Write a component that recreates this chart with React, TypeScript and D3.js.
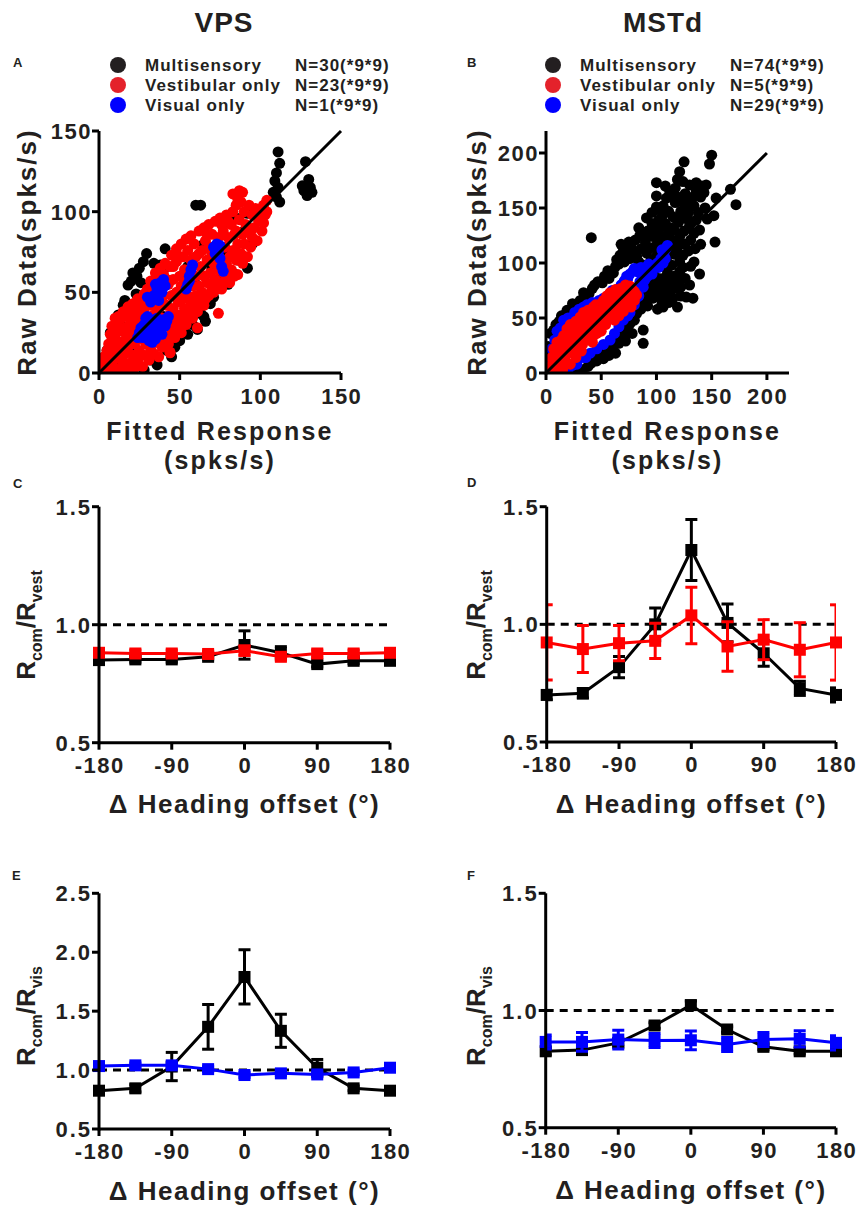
import React from 'react';
import * as d3 from 'd3';

const FONT = '"Liberation Sans", Arial, Helvetica, sans-serif';
const TXT = '#231f20';

type P = [number, number];

// ---------- Scatter data (Fitted response, Raw data), spks/s ----------
const vpsMulti: P[] = [
  [111,137],[112,130],[110,124],[109,119],[111,115],[112,106],[108,112],[110,109],
  [128,131],[130,120],[131,115],[129,110],[127,113],[132,112],[126,116],
  [60,104],[63,104],
  [29.5,74],[27.5,69],[21,62],[23.5,60],[18,54.5],[41,77],[38,67],[40,64],[23,49],[18,39],[13,31],[7,25],[9,20],[5,14],[16,45],[26,56],[34,68],[12,36],[20,57],[25,65],[15,42],
  [63,37],[65,35],[61,27],[69,43],[71,47],[75,58],[83,62],[92,65],[90,72],[42,14],[40,18],[32,8],[28,2],[21,1],[75,95],[77,93],[92,99],[58,30],[66,32],[50,20],[47,16],[36,5],[80,55],[86,70],[95,80],[55,24],[45,10],
  [30,20],[40,35],[50,45],[60,55],[70,65],[80,75],[90,88],[20,15],[10,8],[35,48],[55,66],[65,80],[85,96]
];
const vpsVest: P[] = [
  [1,2],[2,6],[3,1],[3,10],[4,4],[5,14],[5,8],[6,2],[6,18],[7,11],[7,24],[8,5],[8,29],[9,16],[10,34],[10,1],[10,22],[11,9],[11,31],[12,14],[12,35],[13,3],[13,26],[14,19],[14,34],[15,7],[15,38],[16,12],[16,28],[17,2],[17,22],[17,36],[18,16],[18,41],[19,6],[19,30],[20,24],[20,39],[21,11],[21,43],[22,3],[22,18],[22,33],[23,27],[23,40],[24,8],[24,46],[25,14],[25,36],[26,21],[26,44],[27,4],[27,30],[28,11],[28,40],[28,49],[29,18],[29,25],[30,35],[30,45],[30,52],[31,8],[31,28],[32,15],[32,42],[32,57],[33,22],[33,52],[34,12],[34,36],[35,30],[35,57],[35,62],[36,19],[36,46],[37,10],[37,40],[38,26],[38,55],[38,65],[39,16],[39,34],[40,48],[40,61],[41,22],[41,68],[42,30],[42,42],[43,18],[43,55],[44,13],[44,36],[44,66],[45,26],[45,48],[45,73],[46,40],[46,58],[47,22],[47,32],[48,50],[48,69],[48,77],[49,28],[49,44],[50,36],[50,60],[51,25],[51,54],[51,80],[52,32],[52,46],[52,72],[53,40],[53,64],[54,30],[54,56],[54,83],[55,48],[55,76],[56,36],[56,62],[57,44],[57,70],[57,85],[58,34],[58,54],[59,40],[59,80],[60,60],[60,48],[60,72],[61,28],[61,38],[62,54],[62,88],[63,44],[63,66],[64,76],[64,50],[65,42],[65,60],[65,90],[66,82],[66,46],[67,56],[67,70],[68,48],[68,92],[69,62],[69,78],[70,52],[70,86],[71,50],[71,68],[72,58],[72,94],[73,74],[73,52],[74,37],[74,64],[74,84],[75,56],[75,96],[76,70],[76,52],[77,62],[77,88],[78,78],[78,56],[79,68],[79,98],[80,60],[80,84],[81,72],[81,56],[82,92],[82,64],[83,100],[83,111],[83,76],[84,60],[84,86],[85,70],[85,104],[86,80],[86,61],[87,95],[87,113],[88,74],[88,106],[89,86],[89,68],[90,100],[90,80],[91,92],[92,72],[93,88],[93,104],[94,78],[95,98],[95,84],[96,90],[97,102],[98,82],[99,94],[100,98],[101,88],[102,93],[102,104],[103,98],[104,107],[44,12.5],[86,108],[89,112],[104,100],
  [9,26],[13,18],[19,35],[24,31],[27,44],[33,46],[36,26],[42,58],[46,66],[50,72],[53,50],[58,66],[62,74],[67,86],[70,74],[76,92],[80,94],[85,88]
];
const vpsVis: P[] = [
  [25,25],[27,22],[28,30],[30,26],[31,20],[32,33],[33,24],[34,29],[35,21],[36,34],[37,26],[38,31],[39,24],[40,33],[41,29],[42,32],[29,34],[26,28],[33,19],[30,35],[28,26],[31,30],[35,27],[38,28],[43,35],[24,22],
  [30,47],[32,44],[34,48],[36,52],[38,56],[40,58],[39,50],[41,54],[37,45],[35,55],[36,48],[38,51],
  [54,52],[55,55],[56,60],[57,64],[58,67],[56,57],
  [71,78],[73,80],[74,75],[75,71],[76,66],[77,63],[72,74],[75,79]
];

const mstMulti: P[] = [
  [2,24],[4,36],[7,39],[3,15],[9,44],[12,47],[14,52],[17,50],[19,57],[22,55],[26,60],[24,63],[29,59],[31,66],[28,2],[33,3],[36,69],[34,73],[38,6],[41,9],[39,72],[42,77],[44,80],[47,83],[46,11],[48,15],[51,82],[53,88],[52,13],[54,19],[57,86],[56,93],[58,22],[57,16],[61,91],[63,97],[61,24],[63,18],[64,103],[66,99],[67,107],[66,27],[68,33],[71,101],[70,111],[73,108],[72,29],[71,37],[74,41],[76,104],[77,115],[75,119],[78,36],[76,45],[79,110],[81,121],[82,106],[80,48],[82,54],[84,101],[86,113],[85,125],[84,132],[86,58],[84,64],[88,39],[88,27],[89,98],[91,109],[90,119],[92,129],[91,141],[89,67],[92,61],[93,76],[90,84],[95,103],[97,114],[94,125],[96,136],[96,146],[97,68],[95,90],[98,80],[100,106],[101,118],[99,129],[102,139],[100,151],[100,161],[100,173],[101,58],[103,70],[102,86],[100,96],[104,124],[106,97],[107,110],[105,133],[106,144],[106,152],[105,63],[107,76],[106,86],[106,60],[109,103],[111,114],[110,126],[108,136],[111,147],[109,159],[112,165],[111,64],[109,71],[112,82],[110,91],[114,98],[116,108],[114,121],[116,130],[115,142],[117,155],[117,168],[115,68],[117,77],[116,88],[119,60],[121,101],[119,114],[121,124],[120,137],[122,147],[119,160],[124,174],[121,183],[122,70],[121,92],[124,107],[126,117],[125,129],[124,141],[127,152],[126,163],[125,192],[126,86],[127,69],[129,111],[131,121],[130,134],[129,146],[131,158],[130,171],[133,68],[131,97],[135,113],[134,127],[136,139],[134,152],[136,166],[136,173],[134,101],[140,117],[139,130],[138,146],[140,160],[141,170],[139,90],[145,171],[143,164],[144,150],[146,140],[150,198],[148,190],[152,143],[153,119],[154,159],[167,167],[172,153],[130,80],[122,78],[112,72],[41,123],[68,117],[73,111],[58,25],[62,30],[67,40],[70,46],[74,52],[79,58],[83,70],[87,76],[93,86],[98,94],[104,104],[109,110],[113,116],[118,120],
  [88,92],[93,113],[103,113],[108,120],[113,132],[118,140],[123,156],[128,140],[133,160],[97,124],[103,148],[108,170],[114,160],[119,176],[95,72],[100,78],[108,82],[115,80],[124,96],[120,84]
];
const mstVest: P[] = [
  [2,2],[4,6],[6,12],[8,4],[9,20],[10,28],[12,10],[13,24],[15,3],[16,34],[18,16],[19,40],[20,28],[22,8],[22,44],[24,20],[25,34],[27,14],[27,47],[29,26],[30,40],[31,51],[32,20],[34,34],[34,55],[36,30],[37,46],[38,57],[40,36],[41,50],[42,28],[43,60],[44,42],[46,54],[46,36],[48,62],[49,46],[50,38],[52,56],[52,66],[54,44],[55,70],[56,60],[57,50],[58,73],[60,54],[60,66],[62,48],[63,76],[64,60],[66,70],[66,52],[68,77],[69,64],[70,56],[72,72],[72,80],[74,62],[75,68],[76,79],[77,60],[79,72],[80,66],[82,71],[45,62],[35,50],[14,16],[24,30],[38,44],[50,50],
  [5,14],[7,22],[11,18],[14,30],[17,24],[21,38],[23,30],[26,40],[28,34],[31,44],[33,40],[36,40],[39,52],[42,46],[45,48],[47,58],[51,48],[53,60],[56,54],[58,64],[61,60],[62,70],[65,64],[67,58],[70,70],[71,62],[73,76],[76,72],[78,76],[80,74],[43,34],[48,42],[55,50],[59,58],[64,68],[68,68],[18,8],[26,22],[30,30],[33,26]
];
const mstVis: P[] = [
  [3,10],[5,22],[8,30],[10,38],[13,41],[16,48],[20,50],[26,55],[30,58],[34,60],[37,62],[42,64],[48,66],[52,68],[56,70],[61,72],[66,76],[70,82],[74,86],[79,93],[84,94],[88,93],[94,96],[100,98],[106,100],[106,110],[109,114],[108,104],[102,96],
  [12,2],[18,3],[24,7],[28,8],[34,14],[40,18],[46,22],[52,26],[58,30],[62,36],[66,42],[70,48],[74,52],[76,55],[80,62],[84,70],[85,83],[88,78],[90,86],[96,90],[82,76],[78,66],
  [60,75],[64,76],[68,80],[71,84],[73,88],[76,90],[80,95],[83,92],[86,96],[90,96],[93,99],[97,97],[101,100],[104,104],[107,106],[108,112],[110,116],[105,112],
  [20,3],[27,9],[36,14],[77,62],[81,67],[83,74],[86,78],[87,82],[89,84],[92,88],[95,92]
];

const legendLabels = ['Multisensory', 'Vestibular only', 'Visual only'];
const vpsCounts = ['N=30(*9*9)', 'N=23(*9*9)', 'N=1(*9*9)'];
const mstCounts = ['N=74(*9*9)', 'N=5(*9*9)', 'N=29(*9*9)'];
const vpsTicks = [0, 50, 100, 150];
const mstTicks = [0, 50, 100, 150, 200];

// ---------- Ratio data ----------
const headings = [-180, -135, -90, -45, 0, 45, 90, 135, 180];
const headingTicks = [-180, -90, 0, 90, 180];

const cBlack = [0.850, 0.853, 0.853, 0.864, 0.914, 0.881, 0.833, 0.847, 0.847];
const cBlackErr = [0.012, 0.012, 0.012, 0.01, 0.06, 0.026, 0.012, 0.012, 0.012];
const cRed = [0.881, 0.878, 0.878, 0.876, 0.890, 0.864, 0.878, 0.878, 0.881];
const cRedErr = [0.014, 0.014, 0.014, 0.012, 0.02, 0.014, 0.014, 0.014, 0.014];

const dBlack = [0.70, 0.707, 0.818, 1.0, 1.316, 1.006, 0.877, 0.728, 0.70];
const dBlackErr = [0.02, 0.02, 0.045, 0.07, 0.13, 0.08, 0.055, 0.03, 0.03];
const dRed = [0.923, 0.895, 0.92, 0.93, 1.038, 0.906, 0.935, 0.892, 0.923];
const dRedErr = [0.16, 0.1, 0.075, 0.075, 0.12, 0.105, 0.085, 0.115, 0.16];

const eBlack = [0.825, 0.845, 1.03, 1.367, 1.79, 1.333, 1.02, 0.845, 0.825];
const eBlackErr = [0.03, 0.03, 0.12, 0.19, 0.23, 0.14, 0.07, 0.02, 0.03];
const eBlue = [1.034, 1.04, 1.04, 1.008, 0.958, 0.972, 0.963, 0.98, 1.02];
const eBlueErr = [0.02, 0.02, 0.02, 0.02, 0.02, 0.02, 0.02, 0.02, 0.02];

const fBlack = [0.826, 0.831, 0.862, 0.936, 1.023, 0.919, 0.845, 0.826, 0.826];
const fBlackErr = [0.015, 0.015, 0.015, 0.012, 0.018, 0.012, 0.012, 0.012, 0.015];
const fBlue = [0.866, 0.866, 0.876, 0.872, 0.873, 0.855, 0.876, 0.879, 0.862];
const fBlueErr = [0.03, 0.04, 0.04, 0.03, 0.04, 0.03, 0.03, 0.035, 0.03];

const vestTicks = [0.5, 1.0, 1.5];
const visTicksE = [0.5, 1.0, 1.5, 2.0, 2.5];

const BLACK = '#000000';
const RED = '#ff0000';
const BLUE = '#0000ff';
const TICK_FS = 22;
const TICK_LS = 1.5;

interface ScatterProps {
  id: string; x0: number; x1: number; yB: number; yT: number; max: number; ticks: number[];
  multi: P[]; vest: P[]; vis: P[]; counts: string[]; letter: string; letterX: number;
  legX: number; labX: number; nX: number; yTitleX: number; lineMax: number; visOnTop: boolean;
}

function Scatter(p: ScatterProps) {
  const x = d3.scaleLinear().domain([0, p.max]).range([p.x0, p.x1]);
  const y = d3.scaleLinear().domain([0, p.max]).range([p.yB, p.yT]);
  const r = 5.5;
  const legendColors = ['#231f20', '#e4222b', '#0000ff'];
  const rows = [65, 85, 105];
  const cx = (p.x0 + p.x1) / 2;
  const cy = (p.yB + p.yT) / 2;
  const layers: [P[], string][] = p.visOnTop
    ? [[p.multi, BLACK], [p.vest, RED], [p.vis, BLUE]]
    : [[p.multi, BLACK], [p.vis, BLUE], [p.vest, RED]];
  return (
    <g>
      <defs>
        <clipPath id={p.id}>
          <rect x={p.x0} y={p.yT - 40} width={p.x1 - p.x0 + 40} height={p.yB - p.yT + 40} />
        </clipPath>
      </defs>
      <text x={p.letterX} y={67} fontSize={13} fontWeight="bold" fill={TXT}>{p.letter}</text>
      {legendLabels.map((l, i) => (
        <g key={l}>
          <circle cx={p.legX} cy={rows[i]} r={8} fill={legendColors[i]} />
          <text x={p.labX} y={rows[i] + 6} fontSize={17} fontWeight="bold" letterSpacing={1} fill={TXT}>{l}</text>
          <text x={p.nX} y={rows[i] + 6} fontSize={17} fontWeight="bold" letterSpacing={1} fill={TXT}>{p.counts[i]}</text>
        </g>
      ))}
      <g clipPath={`url(#${p.id})`}>
        {layers.map(([pts, col], li) => (
          <g key={'l' + li}>
            {pts.map((d, i) => <circle key={i} cx={x(d[0])} cy={y(d[1])} r={r} fill={col} />)}
          </g>
        ))}
      </g>
      <line x1={x(0)} y1={y(0)} x2={x(p.lineMax)} y2={y(p.lineMax)} stroke={BLACK} strokeWidth={3} />
      <line x1={p.x0} y1={p.yB} x2={p.x1} y2={p.yB} stroke={BLACK} strokeWidth={3} />
      <line x1={p.x0} y1={p.yB + 1.5} x2={p.x0} y2={p.yT} stroke={BLACK} strokeWidth={3} />
      {p.ticks.map(t => (
        <g key={'xt' + t}>
          <line x1={x(t)} x2={x(t)} y1={p.yB} y2={p.yB + 7} stroke={BLACK} strokeWidth={3} />
          <text x={x(t) + TICK_LS / 2} y={p.yB + 31} fontSize={TICK_FS} fontWeight="bold" textAnchor="middle" letterSpacing={TICK_LS} fill={TXT}>{t}</text>
          <line x1={p.x0 - 7} x2={p.x0} y1={y(t)} y2={y(t)} stroke={BLACK} strokeWidth={3} />
          <text x={p.x0 - 7} y={y(t) + 8} fontSize={TICK_FS} fontWeight="bold" textAnchor="end" letterSpacing={TICK_LS} fill={TXT}>{t}</text>
        </g>
      ))}
      <text x={cx} y={440} fontSize={25} fontWeight="bold" textAnchor="middle" letterSpacing={2.2} fill={TXT}>Fitted Response</text>
      <text x={cx} y={469} fontSize={25} fontWeight="bold" textAnchor="middle" letterSpacing={2.2} fill={TXT}>(spks/s)</text>
      <text transform={`translate(${p.yTitleX},${cy}) rotate(-90)`} fontSize={26} fontWeight="bold" textAnchor="middle" letterSpacing={2} fill={TXT}>Raw Data(spks/s)</text>
    </g>
  );
}

interface Series { vals: number[]; errs: number[]; color: string; }
interface LineProps {
  id: string; x0: number; x1: number; yB: number; yT: number; domain: [number, number]; ticks: number[];
  series: Series[]; sub: string; letter: string; letterX: number; letterY: number;
  yTitleX: number; yTitleY: number; xTitleY: number;
}

function LinePanel(p: LineProps) {
  const x = d3.scaleLinear().domain([-180, 180]).range([p.x0, p.x1]);
  const y = d3.scaleLinear().domain(p.domain).range([p.yB, p.yT]);
  const line = d3.line<number>().x((_, i) => x(headings[i])).y(d => y(d));
  const sq = 12;
  const cap = 6;
  const cx = (p.x0 + p.x1) / 2;
  return (
    <g>
      <defs>
        <clipPath id={p.id}>
          <rect x={p.x0} y={p.yT - 40} width={p.x1 - p.x0} height={p.yB - p.yT + 80} />
        </clipPath>
      </defs>
      <text x={p.letterX} y={p.letterY} fontSize={13} fontWeight="bold" fill={TXT}>{p.letter}</text>
      <line x1={x(-180)} x2={x(180)} y1={y(1)} y2={y(1)} stroke={BLACK} strokeWidth={3} strokeDasharray="8,6" />
      {p.series.map((s, si) => (
        <g key={si}>
          <g clipPath={`url(#${p.id})`}>
            {s.vals.map((v, i) => {
              const px = x(headings[i]);
              return (
                <g key={i}>
                  <line x1={px} x2={px} y1={y(v - s.errs[i])} y2={y(v + s.errs[i])} stroke={s.color} strokeWidth={3} />
                  <line x1={px - cap} x2={px + cap} y1={y(v - s.errs[i])} y2={y(v - s.errs[i])} stroke={s.color} strokeWidth={3} />
                  <line x1={px - cap} x2={px + cap} y1={y(v + s.errs[i])} y2={y(v + s.errs[i])} stroke={s.color} strokeWidth={3} />
                </g>
              );
            })}
          </g>
          <path d={line(s.vals) || ''} fill="none" stroke={s.color} strokeWidth={3} />
          {s.vals.map((v, i) => (
            <rect key={'q' + i} x={x(headings[i]) - sq / 2} y={y(v) - sq / 2} width={sq} height={sq} fill={s.color} />
          ))}
        </g>
      ))}
      <line x1={p.x0} y1={p.yB} x2={p.x1} y2={p.yB} stroke={BLACK} strokeWidth={3} />
      <line x1={p.x0} y1={p.yB + 1.5} x2={p.x0} y2={p.yT} stroke={BLACK} strokeWidth={3} />
      {headingTicks.map(t => (
        <g key={'xt' + t}>
          <line x1={x(t)} x2={x(t)} y1={p.yB} y2={p.yB + 7} stroke={BLACK} strokeWidth={3} />
          <text x={x(t) + TICK_LS / 2} y={p.yB + 30} fontSize={TICK_FS} fontWeight="bold" textAnchor="middle" letterSpacing={TICK_LS} fill={TXT}>{t}</text>
        </g>
      ))}
      {p.ticks.map(t => (
        <g key={'yt' + t}>
          <line x1={p.x0 - 7} x2={p.x0} y1={y(t)} y2={y(t)} stroke={BLACK} strokeWidth={3} />
          <text x={p.x0 - 7} y={y(t) + 8} fontSize={TICK_FS} fontWeight="bold" textAnchor="end" letterSpacing={2} fill={TXT}>{d3.format('.1f')(t)}</text>
        </g>
      ))}
      <text x={cx} y={p.xTitleY} fontSize={26} fontWeight="bold" textAnchor="middle" letterSpacing={1.5} fill={TXT}>Δ Heading offset (°)</text>
      <text transform={`translate(${p.yTitleX},${p.yTitleY}) rotate(-90)`} fontWeight="bold" textAnchor="middle" fill={TXT} fontSize={26}>
        <tspan>R</tspan>
        <tspan fontSize={16} dy={7}>com</tspan>
        <tspan dy={-7}>/R</tspan>
        <tspan fontSize={16} dy={7}>{p.sub}</tspan>
      </text>
    </g>
  );
}

export default function App() {
  return (
    <svg width={858} height={1206} viewBox="0 0 858 1206" style={{ position: 'absolute', left: 0, top: 0, background: '#fff' }} fontFamily={FONT}>
      <rect x={0} y={0} width={858} height={1206} fill="#fff" />
      <text x={224} y={32} fontSize={28} fontWeight="bold" textAnchor="middle" letterSpacing={1} fill={TXT}>VPS</text>
      <text x={663} y={32} fontSize={28} fontWeight="bold" textAnchor="middle" letterSpacing={1} fill={TXT}>MSTd</text>
      <Scatter id="clipA" x0={99} x1={341} yB={373} yT={131} max={150} ticks={vpsTicks}
        multi={vpsMulti} vest={vpsVest} vis={vpsVis} counts={vpsCounts} letter="A" letterX={13}
        legX={118} labX={145} nX={295} yTitleX={36} lineMax={150} visOnTop={true} />
      <Scatter id="clipB" x0={546} x1={789} yB={373} yT={131} max={220} ticks={mstTicks}
        multi={mstMulti} vest={mstVest} vis={mstVis} counts={mstCounts} letter="B" letterX={467}
        legX={553} labX={580} nX={730} yTitleX={486} lineMax={200} visOnTop={false} />
      <LinePanel id="clipC" x0={99} x1={390} yB={742.7} yT={506.7} domain={[0.5, 1.5]} ticks={vestTicks}
        series={[{ vals: cBlack, errs: cBlackErr, color: BLACK }, { vals: cRed, errs: cRedErr, color: RED }]}
        sub="vest" letter="C" letterX={13} letterY={488} yTitleX={35} yTitleY={625} xTitleY={813} />
      <LinePanel id="clipD" x0={546.7} x1={836} yB={742} yT={506.7} domain={[0.5, 1.5]} ticks={vestTicks}
        series={[{ vals: dBlack, errs: dBlackErr, color: BLACK }, { vals: dRed, errs: dRedErr, color: RED }]}
        sub="vest" letter="D" letterX={467} letterY={487} yTitleX={485} yTitleY={625} xTitleY={813} />
      <LinePanel id="clipE" x0={99} x1={390} yB={1129} yT={893.3} domain={[0.5, 2.5]} ticks={visTicksE}
        series={[{ vals: eBlack, errs: eBlackErr, color: BLACK }, { vals: eBlue, errs: eBlueErr, color: BLUE }]}
        sub="vis" letter="E" letterX={12} letterY={880} yTitleX={35} yTitleY={1016} xTitleY={1200} />
      <LinePanel id="clipF" x0={545.7} x1={836} yB={1127.7} yT={893.3} domain={[0.5, 1.5]} ticks={vestTicks}
        series={[{ vals: fBlack, errs: fBlackErr, color: BLACK }, { vals: fBlue, errs: fBlueErr, color: BLUE }]}
        sub="vis" letter="F" letterX={467} letterY={880} yTitleX={485} yTitleY={1016} xTitleY={1199} />
    </svg>
  );
}
